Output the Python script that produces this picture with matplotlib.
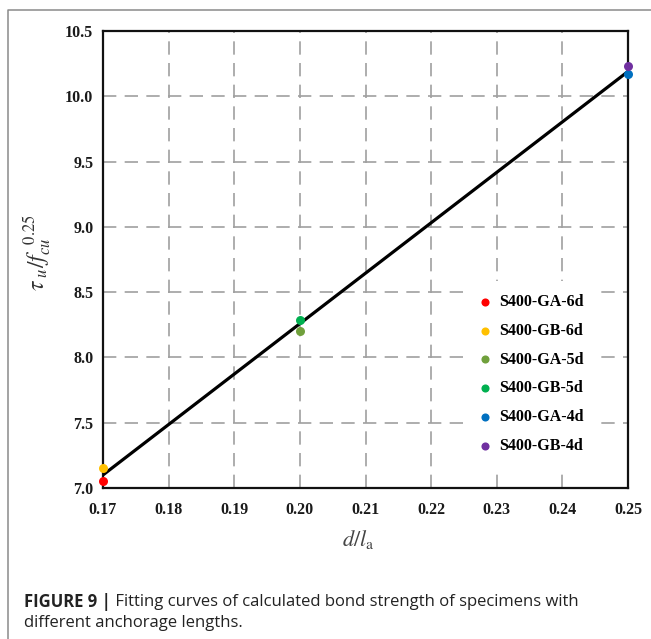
import matplotlib
matplotlib.use("Agg")
import matplotlib.pyplot as plt
from matplotlib.lines import Line2D

plt.rcParams['mathtext.fontset'] = 'stix'

# specimens: name, d/la, tau_u / fcu^0.25
labels = ["S400-GA-6d", "S400-GB-6d", "S400-GA-5d", "S400-GB-5d", "S400-GA-4d", "S400-GB-4d"]
d_la = [0.17, 0.17, 0.20, 0.20, 0.25, 0.25]
tau_ratio = [7.05, 7.15, 8.20, 8.29, 10.17, 10.23]
colors = ["#FF0000", "#FFC000", "#70A03C", "#00B050", "#0070C0", "#7030A0"]

# fitted line end points
fit_x = [0.17, 0.25]
fit_y = [7.10, 10.19]

x_ticks = [0.17, 0.18, 0.19, 0.20, 0.21, 0.22, 0.23, 0.24, 0.25]
y_ticks = [7.0, 7.5, 8.0, 8.5, 9.0, 9.5, 10.0, 10.5]

serif = ['Liberation Serif', 'DejaVu Serif']

fig = plt.figure(figsize=(6.51, 6.39), dpi=100)
ax = fig.add_axes([0.1582, 0.2363, 0.8065, 0.7152])

ax.plot(fit_x, fit_y, color="black", linewidth=2.3, zorder=3)

for x, y, c, lab in zip(d_la, tau_ratio, colors, labels):
    ax.scatter([x], [y], s=42, color=c, label=lab, zorder=4, clip_on=False, linewidths=0)

ax.set_xlim(0.17, 0.25)
ax.set_ylim(7.0, 10.5)
ax.set_xticks(x_ticks)
ax.set_yticks(y_ticks)
ax.set_xticklabels(["%.2f" % v for v in x_ticks])
ax.set_yticklabels(["%.1f" % v for v in y_ticks])
for lbl in ax.get_xticklabels() + ax.get_yticklabels():
    lbl.set_family(serif)
    lbl.set_fontweight('bold')
    lbl.set_fontsize(11.5)
    lbl.set_color('#1a1a1a')
ax.tick_params(axis='both', length=0)
ax.tick_params(axis='y', pad=7)
ax.tick_params(axis='x', pad=10)

ax.grid(True, color="#a0a0a0", linewidth=1.2, linestyle=(0, (8, 5)), zorder=1)
for sp in ax.spines.values():
    sp.set_linewidth(1.6)
    sp.set_color('#111111')

leg = ax.legend(loc='upper left', bbox_to_anchor=(0.676, 0.470), frameon=True,
                framealpha=1, edgecolor='none', fancybox=False,
                prop={'family': serif, 'weight': 'bold', 'size': 11.5},
                handlelength=0.8, handletextpad=0.5, labelspacing=0.8,
                borderpad=0.8, markerscale=0.9)
leg.set_zorder(5)

fig.text(0.058, 0.604, r'$\tau_{\ u}/f_{cu}^{\ \ \mathrm{0.25}}$', rotation=90,
         ha='center', va='center', fontsize=17, color='#333333')
fig.text(0.55, 0.155, r'$d/l_{\mathrm{a}}$', ha='center', va='center',
         fontsize=16, color='#444444')

# outer frame (left and top)
fig.add_artist(Line2D([0.0123, 0.0123, 1.0], [0.0, 0.9844, 0.9844],
                      transform=fig.transFigure, color='#8a8a8a', linewidth=1.1))

cap_font = ['Open Sans', 'DejaVu Sans']
bold = fig.text(0.037, 0.058, "FIGURE 9 |", fontsize=12, fontweight='bold',
                family=cap_font, color='#222222', va='center')
ax.annotate(" Fitting curves of calculated bond strength of specimens with",
            xy=(1.0, 0.5), xycoords=bold, va='center', ha='left',
            fontsize=12, family=cap_font, color='#222222', annotation_clip=False)
fig.text(0.037, 0.025, "different anchorage lengths.", fontsize=12,
         family=cap_font, color='#222222', va='center')

fig.savefig("out.png", dpi=100)
